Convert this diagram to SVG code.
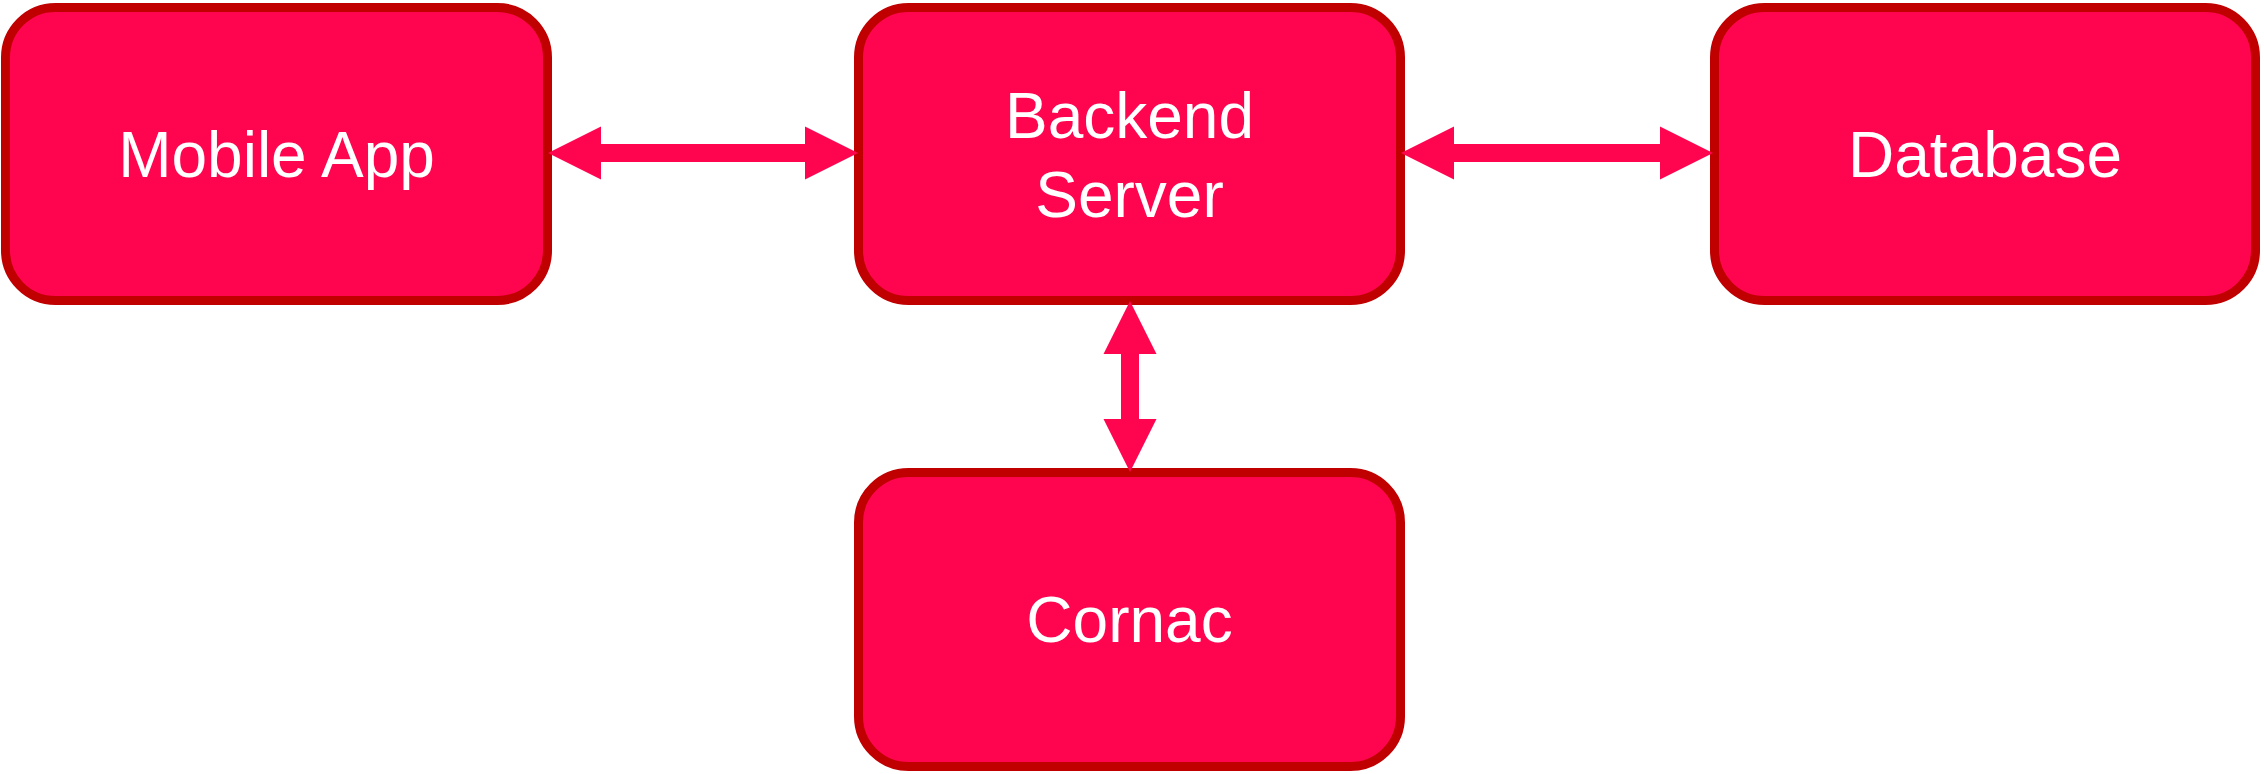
<svg xmlns="http://www.w3.org/2000/svg" width="2264" height="774" viewBox="0 0 2264 774">
<style>
.box{fill:#FF0550;stroke:#C00000;stroke-width:9}
.lbl{fill:#FFFFFF;font-family:"Liberation Sans",Arial,sans-serif;font-size:64px;text-anchor:middle}
.arr{fill:#FF0550;stroke:none}
</style>
<rect width="2264" height="774" fill="#FFFFFF"/>
<g id="mobile-app">
<rect class="box" x="5.5" y="7.5" width="542" height="293" rx="50" ry="50"/>
<text class="lbl" x="276.5" y="177">Mobile App</text>
</g>
<g id="backend-server">
<rect class="box" x="858.5" y="7.5" width="542" height="293" rx="50" ry="50"/>
<text class="lbl" x="1129.5" y="138">Backend</text>
<text class="lbl" x="1129.5" y="217">Server</text>
</g>
<g id="database">
<rect class="box" x="1714.5" y="7.5" width="541" height="293" rx="50" ry="50"/>
<text class="lbl" x="1985" y="177">Database</text>
</g>
<g id="cornac">
<rect class="box" x="858.5" y="472.5" width="542" height="294" rx="50" ry="50"/>
<text class="lbl" x="1129.5" y="642">Cornac</text>
</g>
<g id="connectors">
<polygon class="arr" points="548,153 601,126.5 601,144 805,144 805,126.5 858,153 805,179.5 805,162 601,162 601,179.5"/>
<polygon class="arr" points="1401,153 1454,126.5 1454,144 1660,144 1660,126.5 1713,153 1660,179.5 1660,162 1454,162 1454,179.5"/>
<polygon class="arr" points="1130,301 1156.5,354 1139,354 1139,419 1156.5,419 1130,472 1103.5,419 1121,419 1121,354 1103.5,354"/>
</g>
</svg>
